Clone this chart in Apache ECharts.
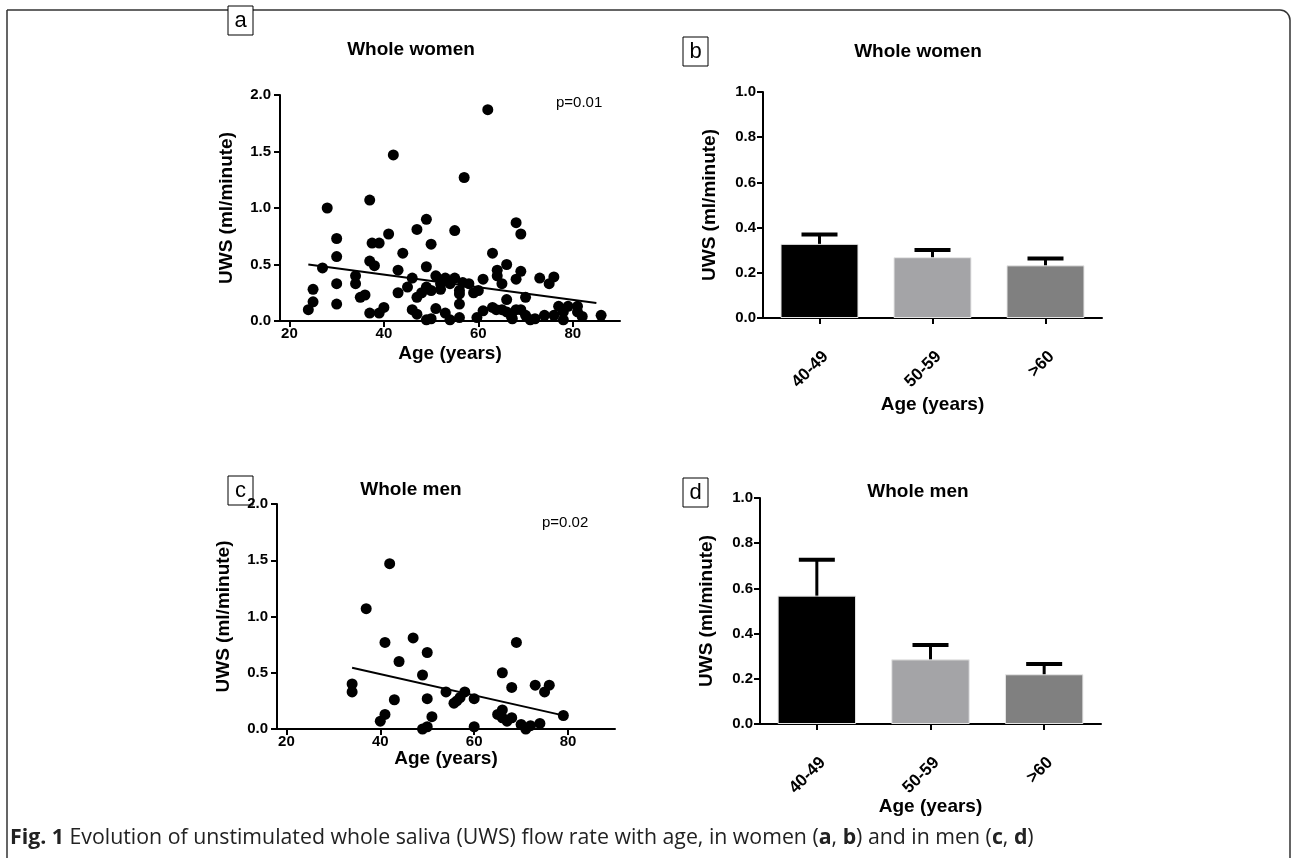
<!DOCTYPE html>
<html><head><meta charset="utf-8">
<script src="https://cdn.jsdelivr.net/npm/echarts@6/dist/echarts.min.js"></script>
<style>html,body{margin:0;padding:0;background:#fff}#c{width:1292px;height:858px}</style>
</head><body><div id="c"></div>
<script>
// ---- data ----
const womenAge = [62,42,57,37,28,49,68,47,55,69,41,30,37.5,39,50,44,63,30,37,38,66,27,49,43,64,69,64,51,34,46,53,55,61,68,73,76,75,65,34,30,56.7,58,52,54,49,50,52,45,43,48,56,59,60,56,36,35,47,66,70,25,25,30,56,24,40,37,39,46,51,47,53,49,50,54,56,59.7,61,63.8,65,66,67,68,69,70,71,72,74,76,77,78,78,79,81,81,82,86,67.2,63];
const womenUws = [1.87,1.47,1.27,1.07,1.00,0.90,0.87,0.81,0.80,0.77,0.77,0.73,0.69,0.69,0.68,0.60,0.60,0.57,0.53,0.49,0.50,0.47,0.48,0.45,0.45,0.44,0.40,0.40,0.40,0.38,0.38,0.38,0.37,0.37,0.38,0.39,0.33,0.33,0.33,0.33,0.34,0.33,0.33,0.33,0.30,0.27,0.28,0.30,0.25,0.25,0.27,0.25,0.27,0.24,0.23,0.21,0.21,0.19,0.21,0.28,0.17,0.15,0.15,0.10,0.12,0.07,0.07,0.10,0.11,0.06,0.07,0.01,0.02,0.01,0.03,0.03,0.09,0.10,0.10,0.08,0.04,0.10,0.10,0.05,0.01,0.02,0.05,0.05,0.13,0.08,0.01,0.13,0.13,0.08,0.04,0.05,0.02,0.12];
const menAge = [42,37,41,47,50,44,69,49,66,34,34,43,50,54,58,57,56.3,55.7,60,68,73,76,75,41,40,51,50,49,60,66,65,66,67,68,70,71,72,74,79];
const menUws = [1.47,1.07,0.77,0.81,0.68,0.60,0.77,0.48,0.50,0.40,0.33,0.26,0.27,0.33,0.33,0.28,0.25,0.23,0.27,0.37,0.39,0.39,0.33,0.13,0.07,0.11,0.02,0.00,0.02,0.17,0.13,0.10,0.07,0.10,0.04,0.00,0.03,0.05,0.12];
const womenFitAge = [24, 85];
const womenFitUws = [0.50, 0.16];
const menFitAge = [34, 78];
const menFitUws = [0.545, 0.13];
const ageGroups = ['40-49', '50-59', '>60'];
const womenMean = [0.328, 0.269, 0.233];
const womenSem = [0.041, 0.032, 0.030];
const menMean = [0.568, 0.286, 0.220];
const menSem = [0.159, 0.064, 0.045];
const scatterTicks = [20, 40, 60, 80];
const pWomen = 'p=0.01';
const pMen = 'p=0.02';

// ---- styles ----
const barColors = ['#000000', '#a4a4a7', '#808080'];
const FONT = '"Liberation Sans", Arial, sans-serif';
const axisLineStyle = {show: true, onZero: false, lineStyle: {color: '#000', width: 2}};
const tickStyle = {show: true, length: 6, lineStyle: {color: '#000', width: 2}};
const labelStyle = {color: '#000', fontWeight: 'bold', fontFamily: FONT, fontSize: 15};
const nameStyle = {color: '#000', fontWeight: 'bold', fontFamily: FONT, fontSize: 19};

const grids = [
  {left: 280, top: 95, width: 340, height: 226},
  {left: 763, top: 92, width: 339, height: 226},
  {left: 277, top: 504, width: 338, height: 225},
  {left: 760, top: 498, width: 341, height: 226}
];

function pairs(xs, ys) { return xs.map((x, i) => [x, ys[i]]); }

function scatterX(i, gap) {
  return {type: 'value', gridIndex: i, min: 18, max: 90,
    axisLine: axisLineStyle,
    axisTick: Object.assign({customValues: scatterTicks}, tickStyle),
    axisLabel: Object.assign({customValues: scatterTicks, margin: 5}, labelStyle),
    splitLine: {show: false},
    name: 'Age (years)', nameLocation: 'middle', nameGap: gap, nameMoveOverlap: false, nameTextStyle: nameStyle};
}
function scatterY(i) {
  return {type: 'value', gridIndex: i, min: 0, max: 2, interval: 0.5,
    axisLine: axisLineStyle, axisTick: tickStyle,
    axisLabel: Object.assign({formatter: v => v.toFixed(1), margin: 9}, labelStyle),
    splitLine: {show: false},
    name: 'UWS (ml/minute)', nameLocation: 'middle', nameGap: 44, nameMoveOverlap: false, nameTextStyle: nameStyle};
}
function barX(i, gap) {
  return {type: 'category', gridIndex: i, data: ageGroups,
    axisLine: axisLineStyle,
    axisTick: Object.assign({alignWithLabel: true}, tickStyle),
    axisLabel: Object.assign({}, labelStyle, {rotate: 45, margin: 30, interval: 0, fontSize: 17, verticalAlign: 'top'}),
    name: 'Age (years)', nameLocation: 'middle', nameGap: gap, nameMoveOverlap: false, nameTextStyle: nameStyle};
}
function barY(i) {
  return {type: 'value', gridIndex: i, min: 0, max: 1, interval: 0.2,
    axisLine: axisLineStyle, axisTick: tickStyle,
    axisLabel: Object.assign({formatter: v => v.toFixed(1), margin: 7}, labelStyle),
    splitLine: {show: false},
    name: 'UWS (ml/minute)', nameLocation: 'middle', nameGap: 44, nameMoveOverlap: false, nameTextStyle: nameStyle};
}

function scatterSeries(i, xs, ys) {
  return {type: 'scatter', xAxisIndex: i, yAxisIndex: i, data: pairs(xs, ys),
    symbol: 'circle', symbolSize: 11, itemStyle: {color: '#000', opacity: 1}, silent: true, z: 3};
}
function fitSeries(i, xs, ys) {
  return {type: 'line', xAxisIndex: i, yAxisIndex: i, data: pairs(xs, ys),
    showSymbol: false, symbol: 'none', lineStyle: {color: '#000', width: 2}, silent: true, z: 4};
}
function barSeries(i, means) {
  return {type: 'bar', xAxisIndex: i, yAxisIndex: i, barWidth: '69%',
    data: means.map((m, k) => ({value: m, itemStyle: {color: barColors[k], borderColor: '#e6e6e6', borderWidth: 1}})),
    silent: true, z: 3};
}
function errSeries(i, means, sems) {
  return {type: 'custom', xAxisIndex: i, yAxisIndex: i, silent: true, z: 2,
    data: means.map((m, k) => [k, m, m + sems[k]]),
    renderItem(params, api) {
      const base = api.coord([api.value(0), api.value(1)]);
      const top = api.coord([api.value(0), api.value(2)]);
      const hw = 18;
      return {type: 'group', children: [
        {type: 'line', shape: {x1: base[0], y1: base[1] + 6, x2: top[0], y2: top[1]}, style: {stroke: '#000', lineWidth: 3}},
        {type: 'line', shape: {x1: top[0] - hw, y1: top[1], x2: top[0] + hw, y2: top[1]}, style: {stroke: '#000', lineWidth: 4}}
      ]};
    }};
}

function titleText(x, y, t) {
  return {type: 'text', x: x, y: y, style: {text: t, textAlign: 'center', textVerticalAlign: 'middle',
    font: 'bold 19px ' + FONT, fill: '#000'}};
}
function panelLabel(x, y, t) {
  return {type: 'group', children: [
    {type: 'rect', shape: {x: x, y: y, width: 25, height: 29}, style: {fill: '#fff', stroke: '#000', lineWidth: 1}},
    {type: 'text', x: x + 12.5, y: y + 15, style: {text: t, textAlign: 'center', textVerticalAlign: 'middle',
      font: '22px ' + FONT, fill: '#000'}}
  ]};
}
function pText(x, y, t) {
  return {type: 'text', x: x, y: y, style: {text: t, textAlign: 'left', textVerticalAlign: 'middle',
    font: '15px ' + FONT, fill: '#000'}};
}

const chart = echarts.init(document.getElementById('c'), null, {renderer: 'canvas'});
chart.setOption({
  animation: false,
  backgroundColor: '#fff',
  grid: grids,
  xAxis: [scatterX(0, 23), barX(1, 77), scatterX(2, 20), barX(3, 73)],
  yAxis: [scatterY(0), barY(1), scatterY(2), barY(3)],
  series: [
    scatterSeries(0, womenAge, womenUws), fitSeries(0, womenFitAge, womenFitUws),
    barSeries(1, womenMean), errSeries(1, womenMean, womenSem),
    scatterSeries(2, menAge, menUws), fitSeries(2, menFitAge, menFitUws),
    barSeries(3, menMean), errSeries(3, menMean, menSem)
  ],
  graphic: [
    {type: 'rect', shape: {x: 7, y: 10, width: 1283, height: 900, r: [0, 10, 0, 0]},
      style: {fill: null, stroke: '#333', lineWidth: 1.5}, silent: true},
    titleText(411, 50, 'Whole women'), titleText(918, 52, 'Whole women'),
    titleText(411, 490, 'Whole men'), titleText(918, 492, 'Whole men'),
    panelLabel(228, 6, 'a'), panelLabel(683, 37, 'b'),
    panelLabel(228, 476, 'c'), panelLabel(683, 478, 'd'),
    pText(556, 103, pWomen), pText(542, 523, pMen),
    {type: 'text', x: 10, y: 838, style: {
      text: '{b|Fig. 1} Evolution of unstimulated whole saliva (UWS) flow rate with age, in women ({b|a}, {b|b}) and in men ({b|c}, {b|d})',
      textVerticalAlign: 'middle', font: '21.3px "Open Sans", sans-serif', fill: '#222',
      rich: {b: {fontWeight: 'bold', fontFamily: '"Open Sans", sans-serif', fontSize: 21.3, fill: '#222'}}
    }}
  ]
});
</script></body></html>
